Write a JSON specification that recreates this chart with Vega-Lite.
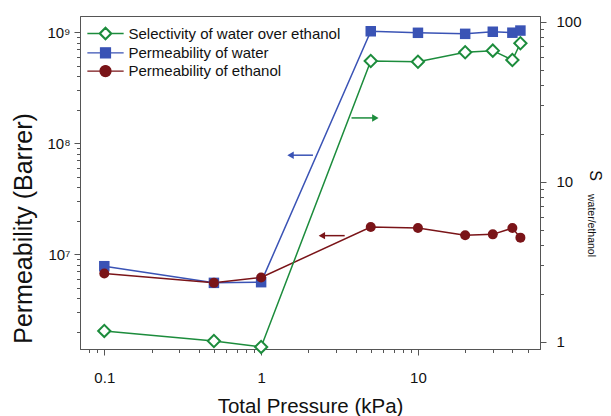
{
  "$schema": "https://vega.github.io/schema/vega-lite/v6.json",
  "width": 460,
  "height": 333,
  "autosize": {"type": "none"},
  "padding": {"left": 80, "top": 16, "right": 71, "bottom": 67},
  "background": "white",
  "config": {
    "font": "Liberation Sans",
    "view": {"stroke": "#555", "strokeWidth": 1},
    "axis": {"grid": false, "domainColor": "#555", "tickColor": "#555", "labelColor": "#111", "titleColor": "#111", "labelFont": "Liberation Sans", "titleFont": "Liberation Sans", "labelFontSize": 15, "titleFontWeight": "normal", "labelOverlap": false, "labelFlush": false}
  },
  "title": {"text": "S", "orient": "right", "anchor": "middle", "fontSize": 16, "fontWeight": "normal", "font": "Liberation Sans", "color": "#111", "offset": 0, "dx": -7, "dy": 8},
  "datasets": {
    "pts": [
      {"p": 0.1, "series": "Permeability of water", "value": 7.8e6},
      {"p": 0.5, "series": "Permeability of water", "value": 5.52e6},
      {"p": 1, "series": "Permeability of water", "value": 5.6e6},
      {"p": 5, "series": "Permeability of water", "value": 1.02e9},
      {"p": 10, "series": "Permeability of water", "value": 9.88e8},
      {"p": 20, "series": "Permeability of water", "value": 9.67e8},
      {"p": 30, "series": "Permeability of water", "value": 1.01e9},
      {"p": 40, "series": "Permeability of water", "value": 9.9e8},
      {"p": 45, "series": "Permeability of water", "value": 1.035e9},
      {"p": 0.1, "series": "Permeability of ethanol", "value": 6.7e6},
      {"p": 0.5, "series": "Permeability of ethanol", "value": 5.52e6},
      {"p": 1, "series": "Permeability of ethanol", "value": 6.17e6},
      {"p": 5, "series": "Permeability of ethanol", "value": 1.76e7},
      {"p": 10, "series": "Permeability of ethanol", "value": 1.72e7},
      {"p": 20, "series": "Permeability of ethanol", "value": 1.48e7},
      {"p": 30, "series": "Permeability of ethanol", "value": 1.51e7},
      {"p": 40, "series": "Permeability of ethanol", "value": 1.72e7},
      {"p": 45, "series": "Permeability of ethanol", "value": 1.41e7},
      {"p": 0.1, "series": "Selectivity of water over ethanol", "value": 1.167},
      {"p": 0.5, "series": "Selectivity of water over ethanol", "value": 1.01},
      {"p": 1, "series": "Selectivity of water over ethanol", "value": 0.927},
      {"p": 5, "series": "Selectivity of water over ethanol", "value": 56.8},
      {"p": 10, "series": "Selectivity of water over ethanol", "value": 56.2},
      {"p": 20, "series": "Selectivity of water over ethanol", "value": 64.4},
      {"p": 30, "series": "Selectivity of water over ethanol", "value": 65.9},
      {"p": 40, "series": "Selectivity of water over ethanol", "value": 57.6},
      {"p": 45, "series": "Selectivity of water over ethanol", "value": 73.3}
    ],
    "arrows": [
      {"series": "Permeability of water", "x1": 1.54, "x2": 2.14, "y": 7.8e7},
      {"series": "Permeability of ethanol", "x1": 2.44, "x2": 3.41, "y": 1.47e7},
      {"series": "Selectivity of water over ethanol", "x1": 3.77, "x2": 5.35, "y": 1.69e8}
    ]
  },
  "layer": [
    {
      "layer": [
        {
          "data": {"name": "pts"},
          "transform": [{"filter": "datum.series !== 'Selectivity of water over ethanol'"}],
          "mark": {"type": "line", "strokeWidth": 1.5},
          "encoding": {
            "x": {"field": "p", "type": "quantitative",
              "scale": {"type": "log", "domain": [0.07, 60], "nice": false},
              "axis": {"title": "Total Pressure (kPa)", "titleFontSize": 20.5, "titlePadding": 11,
                "values": [0.08, 0.09, 0.1, 0.2, 0.3, 0.4, 0.5, 0.6, 0.7, 0.8, 0.9, 1, 2, 3, 4, 5, 6, 7, 8, 9, 10, 20, 30, 40, 50],
                "labelExpr": "datum.value == 0.1 ? '0.1' : datum.value == 1 ? '1' : datum.value == 10 ? '10' : ''",
                "tickSize": {"condition": {"test": "datum.value == 0.1 || datum.value == 1 || datum.value == 10", "value": 6}, "value": 3.5},
                "labelPadding": 15}},
            "y": {"field": "value", "type": "quantitative",
              "scale": {"type": "log", "domain": [1.4e6, 1.4e9], "nice": false},
              "axis": {"orient": "left", "title": "Permeability (Barrer)", "titleFontSize": 25, "titlePadding": 10, "titleY": 212,
                "values": [2e6, 3e6, 4e6, 5e6, 6e6, 7e6, 8e6, 9e6, 1e7, 2e7, 3e7, 4e7, 5e7, 6e7, 7e7, 8e7, 9e7, 1e8, 2e8, 3e8, 4e8, 5e8, 6e8, 7e8, 8e8, 9e8, 1e9],
                "labelExpr": "datum.value == 1e7 ? '10⁷' : datum.value == 1e8 ? '10⁸' : datum.value == 1e9 ? '10⁹' : ''",
                "tickSize": {"condition": {"test": "datum.value == 1e7 || datum.value == 1e8 || datum.value == 1e9", "value": 6}, "value": 3.5},
                "labelPadding": 4}},
            "color": {"field": "series", "type": "nominal",
              "scale": {"domain": ["Selectivity of water over ethanol", "Permeability of water", "Permeability of ethanol"], "range": ["#1c8c3c", "#3a53b5", "#7a1418"]},
              "legend": {"orient": "none", "legendX": 18, "legendY": 10, "title": null, "padding": 0,
                "labelFontSize": 15, "labelFont": "Liberation Sans", "labelColor": "#111", "labelOffset": 15.5, "labelLimit": 0,
                "symbolSize": 121, "rowPadding": 1.3, "symbolStrokeWidth": 1.3,
                "encode": {"symbols": {"update": {
                  "shape": {"signal": "datum.value === 'Selectivity of water over ethanol' ? 'M-3.3,0H-1.15M-1.15,0L0,-1.15L1.15,0L0,1.15ZM-0.93,0L0,0.93L0.93,0L0,-0.93ZM1.15,0H3.3' : datum.value === 'Permeability of water' ? 'M-3.3,0H-0.9M-0.9,-0.9H0.9V0.9H-0.9ZM0.9,0H3.3' : 'M-3.3,0H-1M-1,0A1,1,0,1,0,1,0A1,1,0,1,0,-1,0ZM1,0H3.3'"},
                  "fill": {"signal": "datum.value === 'Selectivity of water over ethanol' ? '#1c8c3c' : datum.value === 'Permeability of water' ? '#3a53b5' : '#7a1418'"},
                  "stroke": {"signal": "datum.value === 'Selectivity of water over ethanol' ? '#1c8c3c' : datum.value === 'Permeability of water' ? '#3a53b5' : '#7a1418'"},
                  "fillOpacity": {"value": 1},
                  "strokeWidth": {"value": 1.3},
                  "size": {"value": 121}
                }}}}}
          }
        },
        {
          "data": {"name": "pts"},
          "transform": [{"filter": "datum.series === 'Permeability of water'"}],
          "mark": {"type": "point", "shape": "square", "filled": true, "size": 110, "color": "#3a53b5", "opacity": 1},
          "encoding": {
            "x": {"field": "p", "type": "quantitative"},
            "y": {"field": "value", "type": "quantitative"}
          }
        },
        {
          "data": {"name": "pts"},
          "transform": [{"filter": "datum.series === 'Permeability of ethanol'"}],
          "mark": {"type": "point", "shape": "circle", "filled": true, "size": 100, "color": "#7a1418", "opacity": 1},
          "encoding": {
            "x": {"field": "p", "type": "quantitative"},
            "y": {"field": "value", "type": "quantitative"}
          }
        },
        {
          "data": {"name": "arrows"},
          "mark": {"type": "rule", "strokeWidth": 1.5},
          "encoding": {
            "x": {"field": "x1", "type": "quantitative"},
            "x2": {"field": "x2"},
            "y": {"field": "y", "type": "quantitative"},
            "color": {"field": "series", "type": "nominal", "legend": null}
          }
        },
        {
          "data": {"name": "arrows"},
          "transform": [{"filter": "datum.series !== 'Selectivity of water over ethanol'"}],
          "mark": {"type": "point", "shape": "triangle-left", "filled": true, "size": 55, "opacity": 1},
          "encoding": {
            "x": {"field": "x1", "type": "quantitative"},
            "y": {"field": "y", "type": "quantitative"},
            "color": {"field": "series", "type": "nominal", "legend": null}
          }
        },
        {
          "data": {"name": "arrows"},
          "transform": [{"filter": "datum.series === 'Selectivity of water over ethanol'"}],
          "mark": {"type": "point", "shape": "triangle-right", "filled": true, "size": 55, "opacity": 1},
          "encoding": {
            "x": {"field": "x2", "type": "quantitative"},
            "y": {"field": "y", "type": "quantitative"},
            "color": {"field": "series", "type": "nominal", "legend": null}
          }
        }
      ]
    },
    {
      "data": {"name": "pts"},
      "transform": [{"filter": "datum.series === 'Selectivity of water over ethanol'"}],
      "layer": [
        {
          "mark": {"type": "line", "strokeWidth": 1.5},
          "encoding": {
            "x": {"field": "p", "type": "quantitative"},
            "y": {"field": "value", "type": "quantitative",
              "scale": {"type": "log", "domain": [0.9, 108.5], "nice": false},
              "axis": {"orient": "right", "title": "water/ethanol", "titleFontSize": 10.5, "titleAngle": 90, "titleBaseline": "middle", "titleAlign": "center", "titleX": 50, "titleY": 209,
                "values": [1, 2, 3, 4, 5, 6, 7, 8, 9, 10, 20, 30, 40, 50, 60, 70, 80, 90, 100],
                "labelExpr": "datum.value == 1 ? '1' : datum.value == 10 ? '10' : datum.value == 100 ? '100' : ''",
                "tickSize": {"condition": {"test": "datum.value == 1 || datum.value == 10 || datum.value == 100", "value": 6}, "value": 3.5},
                "labelPadding": 10}},
            "color": {"field": "series", "type": "nominal", "legend": null}
          }
        },
        {
          "mark": {"type": "point", "shape": "diamond", "filled": true, "fill": "white", "stroke": "#1c8c3c", "strokeWidth": 2, "size": 150, "opacity": 1},
          "encoding": {
            "x": {"field": "p", "type": "quantitative"},
            "y": {"field": "value", "type": "quantitative"}
          }
        }
      ]
    }
  ],
  "resolve": {"scale": {"y": "independent"}}
}
